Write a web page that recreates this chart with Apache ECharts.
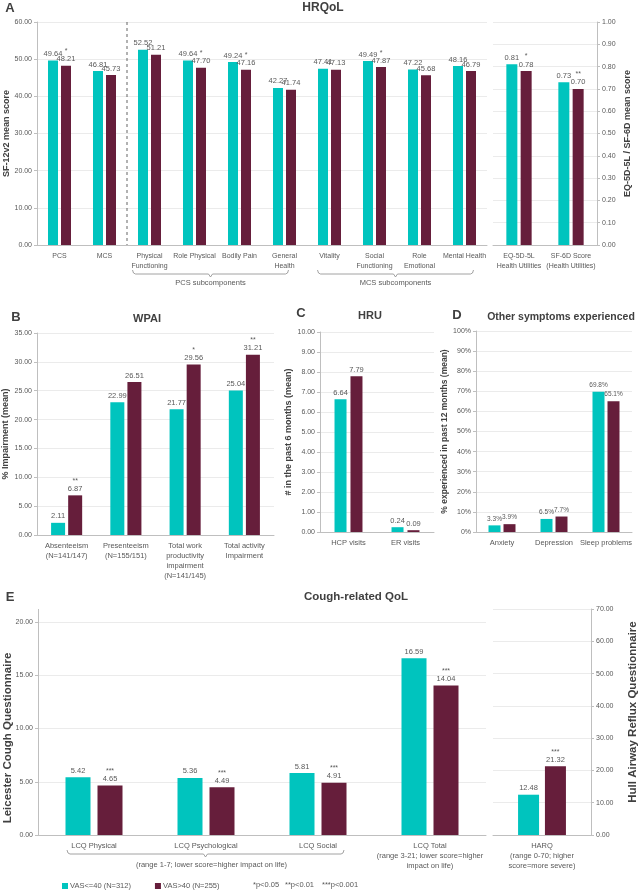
<!DOCTYPE html>
<html><head><meta charset="utf-8">
<script src="https://cdn.jsdelivr.net/npm/echarts@6/dist/echarts.min.js"></script>
<style>html,body{margin:0;padding:0;background:#fff}#c{width:640px;height:895px}</style>
</head><body><div id="c"></div>
<script>
const FONT = "'Liberation Sans',Arial,sans-serif";
const TEAL = '#00C4BE', MAROON = '#661E3B', TXT = '#595959', DARK = '#404040', AX = '#BFBFBF', SPL = '#EBEBEB';
const S1 = 'VAS<=40 (N=312)', S2 = 'VAS>40 (N=255)';

// Panel A - HRQoL (SF-12v2)
const catA = ['PCS','MCS','Physical\nFunctioning','Role Physical','Bodily Pain','General\nHealth','Vitality','Social\nFunctioning','Role\nEmotional','Mental Health'];
const aLow = [49.64,46.81,52.52,49.64,49.24,42.27,47.41,49.49,47.22,48.16];
const aHigh = [48.21,45.73,51.21,47.70,47.16,41.74,47.13,47.87,45.68,46.79];
const aSig = ['*','','','*','*','','','*','',''];
// Panel A - utilities
const catU = ['EQ-5D-5L\nHealth Utilities','SF-6D Score\n(Health Utilities)'];
const uLow = [0.81,0.73];
const uHigh = [0.78,0.70];
const uSig = ['*','**'];
// Panel B - WPAI
const catB = ['Absenteeism\n(N=141/147)','Presenteeism\n(N=155/151)','Total work\nproductivity\nimpairment\n(N=141/145)','Total activity\nImpairment'];
const bLow = [2.11,22.99,21.77,25.04];
const bHigh = [6.87,26.51,29.56,31.21];
const bSig = ['**','','*','**'];
// Panel C - HRU
const catC = ['HCP visits','ER visits'];
const cLow = [6.64,0.24];
const cHigh = [7.79,0.09];
// Panel D - other symptoms
const catD = ['Anxiety','Depression','Sleep problems'];
const dLow = [3.3,6.5,69.8];
const dHigh = [3.9,7.7,65.1];
// Panel E - LCQ
const catE = ['LCQ Physical','LCQ Psychological','LCQ Social','LCQ Total\n(range 3-21; lower score=higher\nimpact on life)'];
const eLow = [5.42,5.36,5.81,16.59];
const eHigh = [4.65,4.49,4.91,14.04];
const eSig = ['***','***','***','***'];
// Panel E - HARQ
const catH = ['HARQ\n(range 0-70; higher\nscore=more severe)'];
const hLow = [12.48];
const hHigh = [21.32];
const hSig = ['***'];

// axis ranges [min, max, interval]
const axA = [0,60,10], axU = [0,1,0.1], axB = [0,35,5], axC = [0,10,1], axD = [0,100,10], axE = [0,20,5], axH = [0,70,10];

const chart = echarts.init(document.getElementById('c'), null, {renderer:'canvas'});

const G = (l,t,w,h) => ({left:l, top:t, width:w, height:h, containLabel:false, outerBoundsMode:'none'});
const grids = [
  G(37,22,450,223),
  G(493,22,104,223),
  G(37,333,237,202),
  G(320,332,114,200),
  G(476,331,156,201),
  G(38,622,448,213),
  G(493,609,98,226)
];

function xAx(i, data, fs) {
  return {type:'category', gridIndex:i, data:data,
    axisLine:{lineStyle:{color:AX}}, axisTick:{show:false},
    axisLabel:{interval:0, color:TXT, fontFamily:FONT, fontSize:fs||7.5, lineHeight:10, margin:6}};
}
function yAx(i, r, dec, opts) {
  const o = {type:'value', gridIndex:i, min:r[0], max:r[1], interval:r[2],
    axisLine:{show:true, lineStyle:{color:AX}}, axisTick:{show:true, length:3, lineStyle:{color:AX}},
    splitLine:{lineStyle:{color:SPL}},
    axisLabel:{color:TXT, fontFamily:FONT, fontSize:7, margin:5,
      formatter: v => dec === '%' ? Math.round(v) + '%' : v.toFixed(dec)}};
  return Object.assign(o, opts || {});
}
function fmt(vals, sig, dec, suffix) {
  return p => {
    const v = vals[p.dataIndex].toFixed(dec) + (suffix || '');
    const s = sig ? sig[p.dataIndex] : '';
    return s ? '{s|' + s + '}\n' + v : v;
  };
}
function bar(name, i, vals, color, bw, gap, sig, dec, suffix, fs) {
  return {type:'bar', name:name, xAxisIndex:i, yAxisIndex:i, data:vals,
    barWidth:bw, barGap:gap, itemStyle:{color:color},
    label:{show:true, position:'top', distance:2, color:TXT, fontFamily:FONT, fontSize:fs||7.5, lineHeight:9,
      formatter: fmt(vals, sig, dec, suffix),
      rich:{s:{fontSize:7, lineHeight:7, color:TXT, fontFamily:FONT}}}};
}

const option = {
  animation:false,
  backgroundColor:'#fff',
  legend:{data:[S1,S2], left:62, top:882, padding:0, icon:'rect', itemWidth:6, itemHeight:6, itemGap:24,
    textStyle:{color:TXT, fontFamily:FONT, fontSize:7.5, padding:[0,0,0,-3]}},
  grid:grids,
  xAxis:[xAx(0,catA,7), xAx(1,catU,7), xAx(2,catB), xAx(3,catC), xAx(4,catD), xAx(5,catE), xAx(6,catH)],
  yAxis:[
    yAx(0, axA, 2),
    yAx(1, axU, 2, {position:'right'}),
    yAx(2, axB, 2),
    yAx(3, axC, 2),
    yAx(4, axD, '%'),
    yAx(5, axE, 2),
    yAx(6, axH, 2, {position:'right'})
  ],
  series:[
    bar(S1,0,aLow,TEAL,10,'30%',null,2),
    bar(S2,0,aHigh,MAROON,10,'30%',aSig,2),
    bar(S1,1,uLow,TEAL,11,'30%',null,2),
    bar(S2,1,uHigh,MAROON,11,'30%',uSig,2),
    bar(S1,2,bLow,TEAL,14,'22%',null,2),
    bar(S2,2,bHigh,MAROON,14,'22%',bSig,2),
    bar(S1,3,cLow,TEAL,12,'33%',null,2),
    bar(S2,3,cHigh,MAROON,12,'33%',null,2),
    bar(S1,4,dLow,TEAL,12,'25%',null,1,'%',6.5),
    bar(S2,4,dHigh,MAROON,12,'25%',null,1,'%',6.5),
    bar(S1,5,eLow,TEAL,25,'28%',null,2),
    bar(S2,5,eHigh,MAROON,25,'28%',eSig,2),
    bar(S1,6,hLow,TEAL,21,'28%',null,2),
    bar(S2,6,hHigh,MAROON,21,'28%',hSig,2)
  ]
};
chart.setOption(option);

// annotations positioned via the axes
function cx(g, idx) { return chart.convertToPixel({gridIndex:g}, [idx, 0])[0]; }
function cy(g, v) { return chart.convertToPixel({gridIndex:g}, [0, v])[1]; }
function brace(x0, x1, y) {
  const m = (x0 + x1) / 2;
  return {type:'polyline', silent:true,
    shape:{points:[[x0,y-4],[x0+1,y-1],[x0+3,y],[m-2,y],[m,y+3],[m+2,y],[x1-3,y],[x1-1,y-1],[x1,y-4]]},
    style:{stroke:'#8C8C8C', lineWidth:0.8, fill:null}};
}
function txt(x, y, t, fs, align, opts) {
  const o = {type:'text', silent:true, x:x, y:y,
    style:{text:t, fill:TXT, font:(fs||7.5) + 'px ' + FONT, textAlign:align||'center', textVerticalAlign:'middle'}};
  if (opts && opts.bold) { o.style.font = 'bold ' + fs + 'px ' + FONT; o.style.fill = DARK; }
  if (opts && opts.rot) o.rotation = Math.PI / 2;
  return o;
}
function head(x, y, t, fs) { return txt(x, y, t, fs, 'center', {bold:true}); }
function ytitle(x, y, t, fs) { return txt(x, y, t, fs, 'center', {bold:true, rot:true}); }

const yA0 = cy(0, 0);
const xDash = (cx(0,1) + cx(0,2)) / 2;
const yE0 = cy(5, 0);
const pcs0 = cx(0,2) - 17, pcs1 = cx(0,5) + 4;
const mcs0 = cx(0,6) - 12, mcs1 = cx(0,9) + 9;
const lcq0 = cx(5,0) - 27, lcq1 = cx(5,2) + 26;
chart.setOption({graphic:[
  head(10, 8, 'A', 13), head(323, 8, 'HRQoL', 12),
  head(16, 317, 'B', 13), head(147, 319, 'WPAI', 11),
  head(301, 313, 'C', 13), head(370, 316, 'HRU', 11),
  head(457, 315, 'D', 13), head(561, 317, 'Other symptoms experienced', 10.5),
  head(10, 597, 'E', 13), head(356, 597, 'Cough-related QoL', 11.5),
  ytitle(7, (cy(0,0)+cy(0,60))/2, 'SF-12v2 mean score', 9),
  ytitle(628, (cy(1,0)+cy(1,1))/2, 'EQ-5D-5L / SF-6D mean score', 9),
  ytitle(6, (cy(2,0)+cy(2,35))/2, '% Impairment (mean)', 9),
  ytitle(289, (cy(3,0)+cy(3,10))/2, '# in the past 6 months (mean)', 9),
  ytitle(445, (cy(4,0)+cy(4,100))/2, '% experienced in past 12 months (mean)', 8.5),
  ytitle(8, 738, 'Leicester Cough Questionnaire', 11.5),
  ytitle(633, 712, 'Hull Airway Reflux Questionnaire', 11.5),
  {type:'line', silent:true, shape:{x1:xDash, y1:cy(0,60), x2:xDash, y2:yA0},
    style:{stroke:'#404040', lineWidth:0.8, lineDash:[3,3]}},
  {type:'line', silent:true, shape:{x1:38.5, y1:cy(6,70), x2:38.5, y2:cy(5,20)},
    style:{stroke:AX, lineWidth:1}},
  brace(pcs0, pcs1, yA0 + 29),
  txt((pcs0+pcs1)/2, yA0 + 38, 'PCS subcomponents', 7.5),
  brace(mcs0, mcs1, yA0 + 29),
  txt((mcs0+mcs1)/2, yA0 + 38, 'MCS subcomponents', 7.5),
  brace(lcq0, lcq1, yE0 + 19),
  txt((lcq0+lcq1)/2 + 6, yE0 + 30, '(range 1-7; lower score=higher impact on life)', 7.5),
  txt(253, 885, '*p<0.05', 7.5, 'left'),
  txt(285, 885, '**p<0.01', 7.5, 'left'),
  txt(322, 885, '***p<0.001', 7.5, 'left')
]});
</script>
</body></html>
